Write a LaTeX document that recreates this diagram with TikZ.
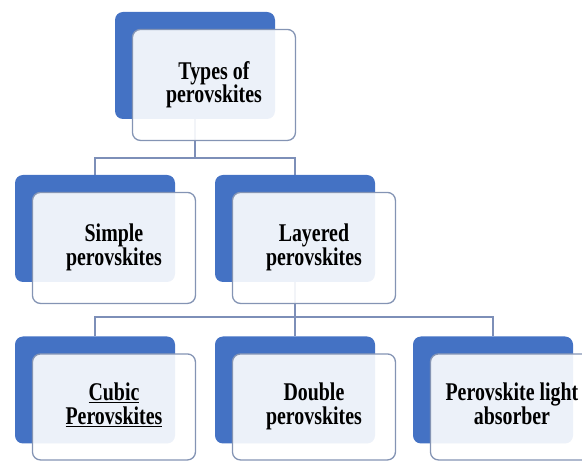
\documentclass[tikz,border=0pt]{standalone}
\usepackage{fontspec}
\setmainfont{Liberation Serif}
\usetikzlibrary{positioning,backgrounds}
\definecolor{backblue}{HTML}{4472C4}
\definecolor{framegray}{HTML}{8494B4}
\definecolor{linkgray}{HTML}{7D8FB8}
\newcommand{\boxtext}[1]{\scalebox{0.78}[1]{\begin{tabular}{@{}c@{}}#1\end{tabular}}}

\begin{document}
\begin{tikzpicture}[x=1pt,y=-1pt,
font=\bfseries\fontsize{25.5}{20}\selectfont,
backbox/.style={fill=backblue,rounded corners=8pt,minimum width=160pt,minimum height=107pt,inner sep=0pt},
frontbox/.style={draw=framegray,line width=1.3pt,fill=white,fill opacity=0.9,text opacity=1,rounded corners=8pt,
  minimum width=163pt,minimum height=111pt,align=center,inner sep=0pt,below right=17pt and 17pt of #1.north west},
link/.style={draw=linkgray,line width=1.4pt},
scale=1]
    \useasboundingbox (0,0) rectangle (582,462);
    \clip (0,0) rectangle (582,462);

    % Top level
    \node[backbox] (typesb) at (195,65.5) {};
    \node[frontbox=typesb] (types) {\boxtext{Types of\\perovskites}};

    % Second level
    \node[backbox] (simpleb) at (95,228.5) {};
    \node[frontbox=simpleb] (simple) {\boxtext{Simple\\perovskites}};
    \node[backbox] (layeredb) at (295,228.5) {};
    \node[frontbox=layeredb] (layered) {\boxtext{Layered\\perovskites}};

    % Third level
    \node[backbox] (cubicb) at (95,390) {};
    \node[frontbox=cubicb,minimum height=106pt] (cubic) {\boxtext{\underline{Cubic}\\\underline{Perovskites}}};
    \node[backbox] (doubleb) at (295,390) {};
    \node[frontbox=doubleb,minimum height=106pt] (double) {\boxtext{Double\\perovskites}};
    \node[backbox] (absorberb) at (493,390) {};
    \node[frontbox=absorberb,minimum height=106pt] (absorber) {\boxtext{Perovskite light\\absorber}};

    % Connectors
    \begin{scope}[on background layer]
  	\draw[link] (typesb.south) -- ++(0,39) coordinate (split1);
  	\draw[link] (simpleb.north) |- (split1) -| (layeredb.north);
  	\draw[link] (layeredb.south) -- ++(0,35) coordinate (split2);
  	\draw[link] (split2) -- (doubleb.north);
  	\draw[link] (cubicb.north) |- (split2) -| (absorberb.north);
    \end{scope}

\end{tikzpicture}
\end{document}
